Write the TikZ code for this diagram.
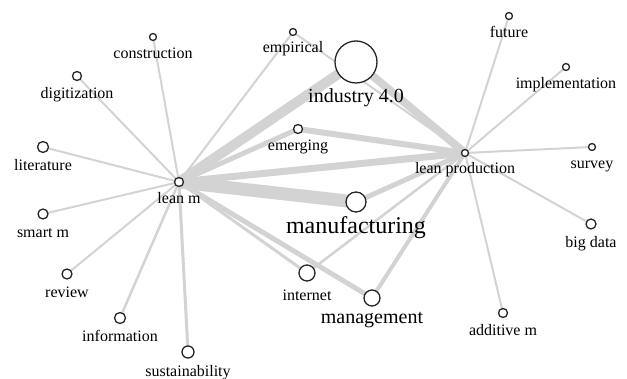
\documentclass[tikz,border=0pt]{standalone}
\usepackage{fontspec}
\setmainfont{Liberation Serif}
\usepackage[svgnames]{xcolor}
\usepackage{tikz}
\usetikzlibrary{
  positioning,
  backgrounds
}
\colorlet{linkLine}{LightGray}
\colorlet{termRim}{black!85}

\begin{document}
\begin{tikzpicture}[
  x=1pt,
  y=-1pt,
  every term/.style={
    circle,
    draw=termRim,
    line width=1.3pt,
    fill=white,
    inner sep=0pt,
  },
  term/.style={
    every term/.try,
    minimum size=#1,
  },
  every word/.style={
    inner sep=0pt,
  },
  word/.style={
    every word/.try,
    font=\fontsize{#1}{#1}\selectfont,
    text height=.75*#1pt,
    text depth=.25*#1pt,
  },
  word/.default=16,
  link/.style={
    draw=linkLine,
    line width=#1,
  },
  link/.default=2pt
]
\useasboundingbox (0,0) rectangle (627,379);
\node[term=9pt] (leanM) at (179,182) {};
\node[word,below=4.5pt of leanM] (leanM-w) {lean m};
\node[term=7pt] (leanProd) at (465,153) {};
\node[word,below=4.5pt of leanProd] (leanProd-w) {lean production};
\node[term=42pt] (industry) at (356,62) {};
\node[word=20,below=4pt of industry] (industry-w) {industry 4.0};
\node[term=20pt] (manufacturing) at (356,202) {};
\node[word=24,below=3pt of manufacturing] (manufacturing-w) {manufacturing};
\node[term=16pt] (management) at (372,298) {};
\node[word=20,below=2pt of management] (management-w) {management};
\node[term=16pt] (internet) at (307,273) {};
\node[word,below=7pt of internet] (internet-w) {internet};
\node[term=9pt] (emerging) at (298,129) {};
\node[word,below=4.5pt of emerging] (emerging-w) {emerging};
\node[term=7pt] (empirical) at (293,32) {};
\node[word,below=4.5pt of empirical] (empirical-w) {empirical};
\foreach \n/\x/\y/\d/\t in {
  construction/153/37/7/construction,
  digitization/77/76/9/digitization,
  literature/43/147/11/literature,
  smartM/43/214/10/smart m,
  review/67/274/10/review,
  information/120/318/11/information,
  sustainability/188/352/12/sustainability,
  future/509/16/7/future,
  implementation/566/67/7/implementation,
  survey/592/147/7/survey,
  bigData/591/224/10/big data,
  additiveM/503/313/9/additive m}
{
  \node[term=\d pt] (\n) at (\x,\y) {};
  \node[word,below=5.5pt of \n] (\n-w) {\t};
}
\begin{scope}[on background layer]
  \foreach \a/\b/\w in {
    leanM/industry/10pt, leanM/manufacturing/13pt, leanM/leanProd/7pt,
    leanM/emerging/5pt, leanM/management/5pt, leanM/internet/3pt,
    leanM/empirical/2pt, leanM/construction/2pt, leanM/digitization/2pt,
    leanM/literature/2pt, leanM/smartM/2pt, leanM/review/2pt,
    leanM/information/2.5pt, leanM/sustainability/3pt,
    leanProd/industry/8pt, leanProd/emerging/6pt, leanProd/manufacturing/5pt,
    leanProd/management/4pt, leanProd/internet/2.5pt, leanProd/empirical/2pt,
    leanProd/future/2pt, leanProd/implementation/2pt, leanProd/survey/2pt,
    leanProd/bigData/2pt, leanProd/additiveM/2pt}
    \draw[link=\w] (\a.center) -- (\b.center);
\end{scope}
\end{tikzpicture}
\end{document}
